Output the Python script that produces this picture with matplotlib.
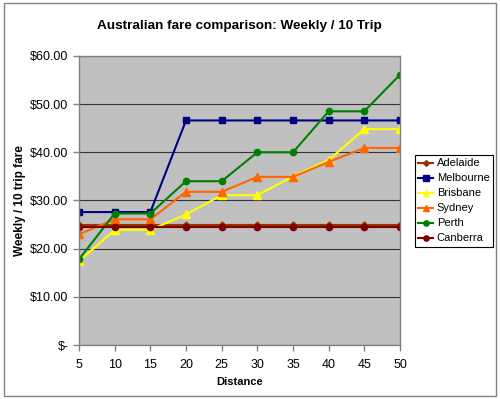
import matplotlib.pyplot as plt
import matplotlib.ticker as ticker
from matplotlib.patches import Rectangle

plt.rcParams['font.family'] = ['Liberation Sans', 'DejaVu Sans']

# Data
distance = [5, 10, 15, 20, 25, 30, 35, 40, 45, 50]
adelaide = [24.9] * 10
melbourne = [27.6, 27.6, 27.6, 46.6, 46.6, 46.6, 46.6, 46.6, 46.6, 46.6]
brisbane = [17.4, 23.9, 23.9, 27.1, 31.1, 31.1, 35.0, 38.4, 44.8, 44.8]
sydney = [23.0, 26.1, 26.1, 31.8, 31.8, 34.9, 34.9, 38.0, 40.9, 40.9]
perth = [17.8, 27.3, 27.3, 34.0, 34.0, 40.0, 40.0, 48.5, 48.5, 56.1]
canberra = [24.6] * 10

series = [
    ('Adelaide', adelaide, '#993300', 'D', 3.5),
    ('Melbourne', melbourne, '#000080', 's', 5),
    ('Brisbane', brisbane, '#FFFF00', '^', 5.5),
    ('Sydney', sydney, '#FF6600', '^', 5.5),
    ('Perth', perth, '#008000', 'o', 4.5),
    ('Canberra', canberra, '#800000', 'o', 4.5),
]

fig = plt.figure(figsize=(5, 3.99), dpi=100)
ax = fig.add_axes([0.158, 0.135, 0.642, 0.725])
ax.set_facecolor('#C0C0C0')

for name, vals, color, marker, ms in series:
    ax.plot(distance, vals, color=color, marker=marker, markersize=ms, lw=1.5,
            label=name)

ax.set_xlim(5, 50)
ax.set_ylim(0, 60)
ax.xaxis.set_major_locator(ticker.FixedLocator(distance))
ax.yaxis.set_major_locator(ticker.MultipleLocator(10))
ax.yaxis.set_major_formatter(ticker.FuncFormatter(
    lambda v, p: '$-' if v == 0 else '${:.2f}'.format(v)))
ax.grid(axis='y', color='#333333', lw=0.8)
ax.set_axisbelow(True)
ax.tick_params(labelsize=9, length=4, color='#808080', width=1)
ax.tick_params(axis='x', pad=6)
for s in ax.spines.values():
    s.set_color('#808080')
    s.set_linewidth(1)

ax.set_title('Australian fare comparison: Weekly / 10 Trip', fontsize=9.7,
             fontweight='bold', pad=19)
ax.set_xlabel('Distance', fontsize=8, fontweight='bold', labelpad=4)
ax.set_ylabel('Weekly / 10 trip fare', fontsize=8.5, fontweight='bold', labelpad=3)

leg = ax.legend(loc='upper left', bbox_to_anchor=(1.047, 0.657), fontsize=8,
                frameon=True, fancybox=False, framealpha=1, edgecolor='black',
                borderpad=0.3, labelspacing=0.45, handlelength=1.3,
                handletextpad=0.35, borderaxespad=0, markerscale=0.85)
leg.get_frame().set_linewidth(0.8)

# Outer chart border
fig.patches.append(Rectangle((0.008, 0.008), 0.983, 0.985, transform=fig.transFigure,
                             fill=False, edgecolor='#808080', lw=1))

fig.savefig('out.png', dpi=100)
